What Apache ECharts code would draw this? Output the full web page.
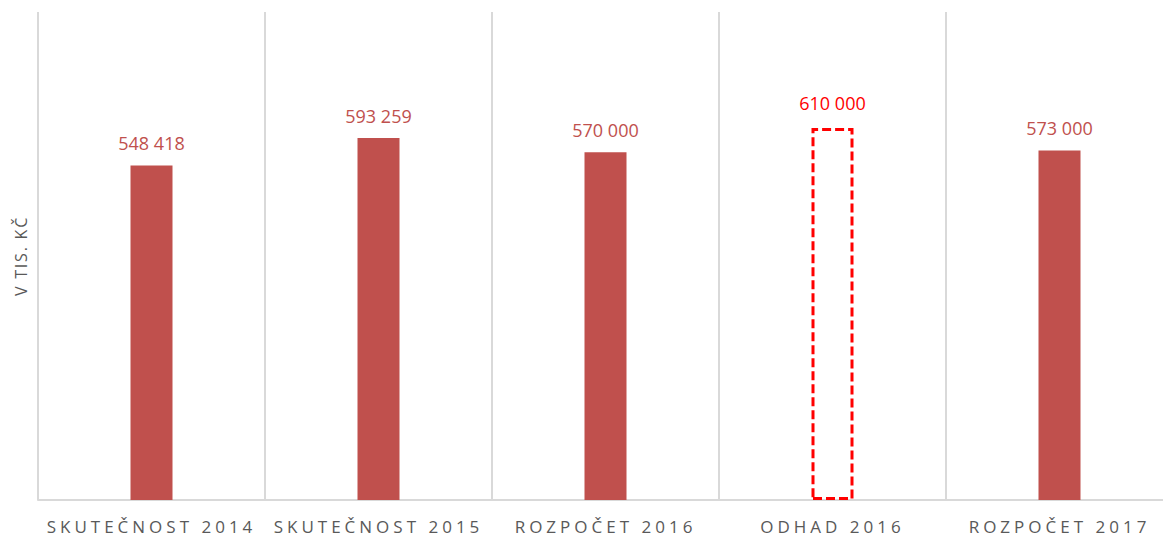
<!DOCTYPE html>
<html>
<head>
<meta charset="utf-8">
<script src="https://cdn.jsdelivr.net/npm/echarts@6/dist/echarts.min.js"></script>
<style>
html, body { margin: 0; padding: 0; background: #fff; }
#chart { width: 1163px; height: 538px; }
#chart svg text[fill="#595959"] { letter-spacing: 4px; }
#chart svg text[fill="#595958"] { letter-spacing: 1.8px; }
</style>
</head>
<body>
<div id="chart"></div>
<script>
const categories = ['SKUTEČNOST 2014', 'SKUTEČNOST 2015', 'ROZPOČET 2016', 'ODHAD 2016', 'ROZPOČET 2017'];
const values = [548418, 593259, 570000, 610000, 573000];
const estimateIndex = 3;
const axisName = 'V TIS. KČ';

function fmt(v) {
  return String(v).replace(/\B(?=(\d{3})+(?!\d))/g, ' ');
}

const data = values.map((v, i) => {
  if (i === estimateIndex) {
    return {
      value: v,
      itemStyle: { color: 'rgba(0,0,0,0)', borderColor: '#FF0000', borderWidth: 3, borderType: [9, 4] },
      label: { color: '#FF0000', distance: 16 }
    };
  }
  return { value: v };
});

const chart = echarts.init(document.getElementById('chart'), null, { renderer: 'svg' });
chart.setOption({
  animation: false,
  backgroundColor: '#ffffff',
  grid: { left: 38, top: 12, width: 1135, height: 488, containLabel: false, outerBoundsMode: 'none' },
  xAxis: {
    type: 'category',
    data: categories,
    boundaryGap: true,
    axisLine: { show: true, lineStyle: { color: '#D9D9D9', width: 2 } },
    axisTick: { show: false },
    splitLine: { show: true, interval: 0, lineStyle: { color: '#D9D9D9', width: 2 } },
    axisLabel: { color: '#595959', fontFamily: 'Open Sans', fontSize: 17, margin: 18, interval: 0 }
  },
  yAxis: {
    type: 'value',
    min: 0,
    max: 800000,
    name: axisName,
    nameLocation: 'middle',
    nameGap: 9,
    nameRotate: 90,
    nameTextStyle: { color: '#595958', fontFamily: 'Open Sans', fontSize: 16 },
    axisLine: { show: false },
    axisTick: { show: false },
    axisLabel: { show: false },
    splitLine: { show: false }
  },
  series: [{
    type: 'bar',
    data: data,
    barWidth: 42,
    itemStyle: { color: '#C0504D' },
    label: {
      show: true,
      position: 'top',
      distance: 13,
      color: '#C0504D',
      fontFamily: 'Open Sans',
      fontSize: 18,
      formatter: p => fmt(p.value)
    }
  }]
});
</script>
</body>
</html>
